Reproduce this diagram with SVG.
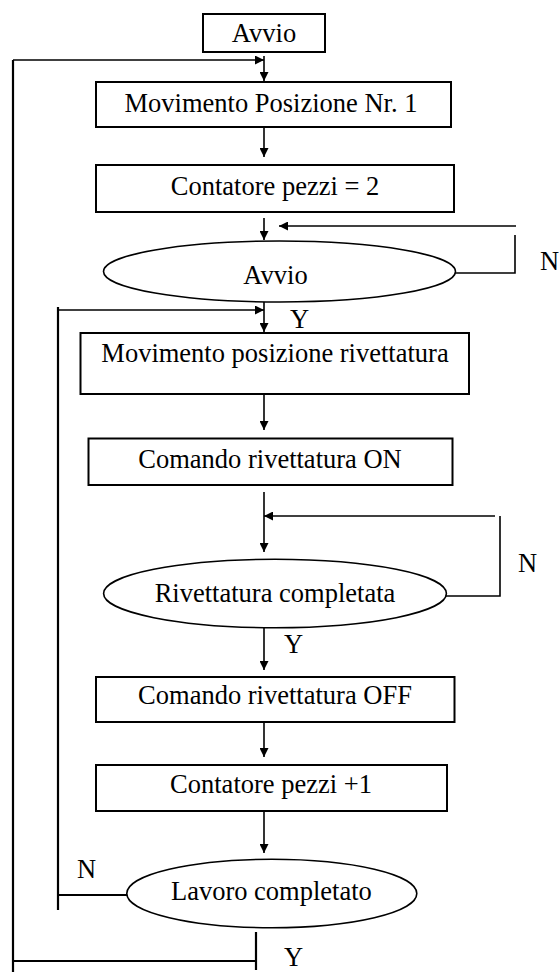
<svg xmlns="http://www.w3.org/2000/svg" width="559" height="972" viewBox="0 0 559 972">
  <defs>
    <marker id="ah" viewBox="0 0 10 10" refX="10" refY="5" markerWidth="10" markerHeight="9" markerUnits="userSpaceOnUse" orient="auto">
      <path d="M0,0 L10,5 L0,10 Z" fill="#000"/>
    </marker>
    <style>
      .box { fill: #fff; stroke: #000; stroke-width: 2; }
      .dec { fill: #fff; stroke: #000; stroke-width: 1.6; }
      .lbl { font-family: "Liberation Serif", "Times New Roman", serif; font-size: 26.5px; fill: #000; text-anchor: middle; }
      .yn { font-family: "Liberation Serif", "Times New Roman", serif; font-size: 26.5px; fill: #000; }
      .c { fill: none; stroke: #000; stroke-width: 1.6; }
      .ca { fill: none; stroke: #000; stroke-width: 1.6; marker-end: url(#ah); }
      .t { fill: none; stroke: #000; stroke-width: 2.2; }
    </style>
  </defs>
  <rect width="559" height="972" fill="#fff"/>

  <g id="connectors">
    <!-- outer loop (Lavoro completato Y) -->
    <path class="t" d="M13,972 L13,60"/>
    <path class="ca" d="M13,60 L264,60"/>
    <path class="t" d="M13,961 L256,961"/>
    <path class="t" d="M256,932 L256,970"/>
    <!-- main flow -->
    <path class="ca" d="M264,56 L264,81"/>
    <path class="ca" d="M264,128 L264,157"/>
    <path class="ca" d="M264,218 L264,240"/>
    <!-- Avvio N loop -->
    <path class="c" d="M455,273 L515,273 L515,235"/>
    <path class="ca" d="M516,226 L279,226"/>
    <!-- Avvio Y -->
    <path class="ca" d="M264,302 L264,332"/>
    <!-- inner loop (Lavoro completato N) -->
    <path class="t" d="M58,307 L58,910"/>
    <path class="ca" d="M58,310 L264,310"/>
    <path class="t" d="M58,895 L127,895"/>
    <path class="ca" d="M264,394 L264,430"/>
    <path class="ca" d="M264,492 L264,552"/>
    <!-- Rivettatura N loop -->
    <path class="c" d="M446,596 L500,596 L500,516"/>
    <path class="ca" d="M495,516 L264,516"/>
    <path class="ca" d="M264,628 L264,670"/>
    <path class="ca" d="M264,720 L264,757"/>
    <path class="ca" d="M264,808 L264,853"/>
  </g>

  <g id="start">
    <rect class="box" x="203" y="14" width="122" height="38"/>
    <text class="lbl" x="264" y="42">Avvio</text>
  </g>
  <g id="move1">
    <rect class="box" x="96" y="82" width="355" height="45"/>
    <text class="lbl" x="271" y="112">Movimento Posizione Nr. 1</text>
  </g>
  <g id="counter2">
    <rect class="box" x="96" y="165" width="358" height="47"/>
    <text class="lbl" x="275" y="195">Contatore pezzi = 2</text>
  </g>
  <g id="avvioDec">
    <ellipse class="dec" cx="279.5" cy="271.5" rx="176" ry="30.5"/>
    <text class="lbl" x="275.5" y="284">Avvio</text>
  </g>
  <g id="moveRivet">
    <rect class="box" x="80.5" y="333" width="388.5" height="61"/>
    <text class="lbl" x="275" y="362">Movimento posizione rivettatura</text>
  </g>
  <g id="rivetOn">
    <rect class="box" x="88.5" y="438.5" width="364" height="46.5"/>
    <text class="lbl" x="270" y="468">Comando rivettatura ON</text>
  </g>
  <g id="rivetDoneDec">
    <ellipse class="dec" cx="275" cy="593.5" rx="171.4" ry="34.2"/>
    <text class="lbl" x="275" y="602">Rivettatura completata</text>
  </g>
  <g id="rivetOff">
    <rect class="box" x="96" y="677" width="358.5" height="45"/>
    <text class="lbl" x="275" y="704">Comando rivettatura OFF</text>
  </g>
  <g id="counterInc">
    <rect class="box" x="96" y="765" width="351" height="46"/>
    <text class="lbl" x="271" y="793">Contatore pezzi +1</text>
  </g>
  <g id="jobDoneDec">
    <ellipse class="dec" cx="271.8" cy="893.5" rx="145" ry="34.2"/>
    <text class="lbl" x="271.4" y="900">Lavoro completato</text>
  </g>

  <g id="labels">
    <text class="yn" x="540" y="270">N</text>
    <text class="yn" x="290" y="328">Y</text>
    <text class="yn" x="518" y="572">N</text>
    <text class="yn" x="284" y="653">Y</text>
    <text class="yn" x="77" y="878">N</text>
    <text class="yn" x="284" y="966">Y</text>
  </g>
</svg>
